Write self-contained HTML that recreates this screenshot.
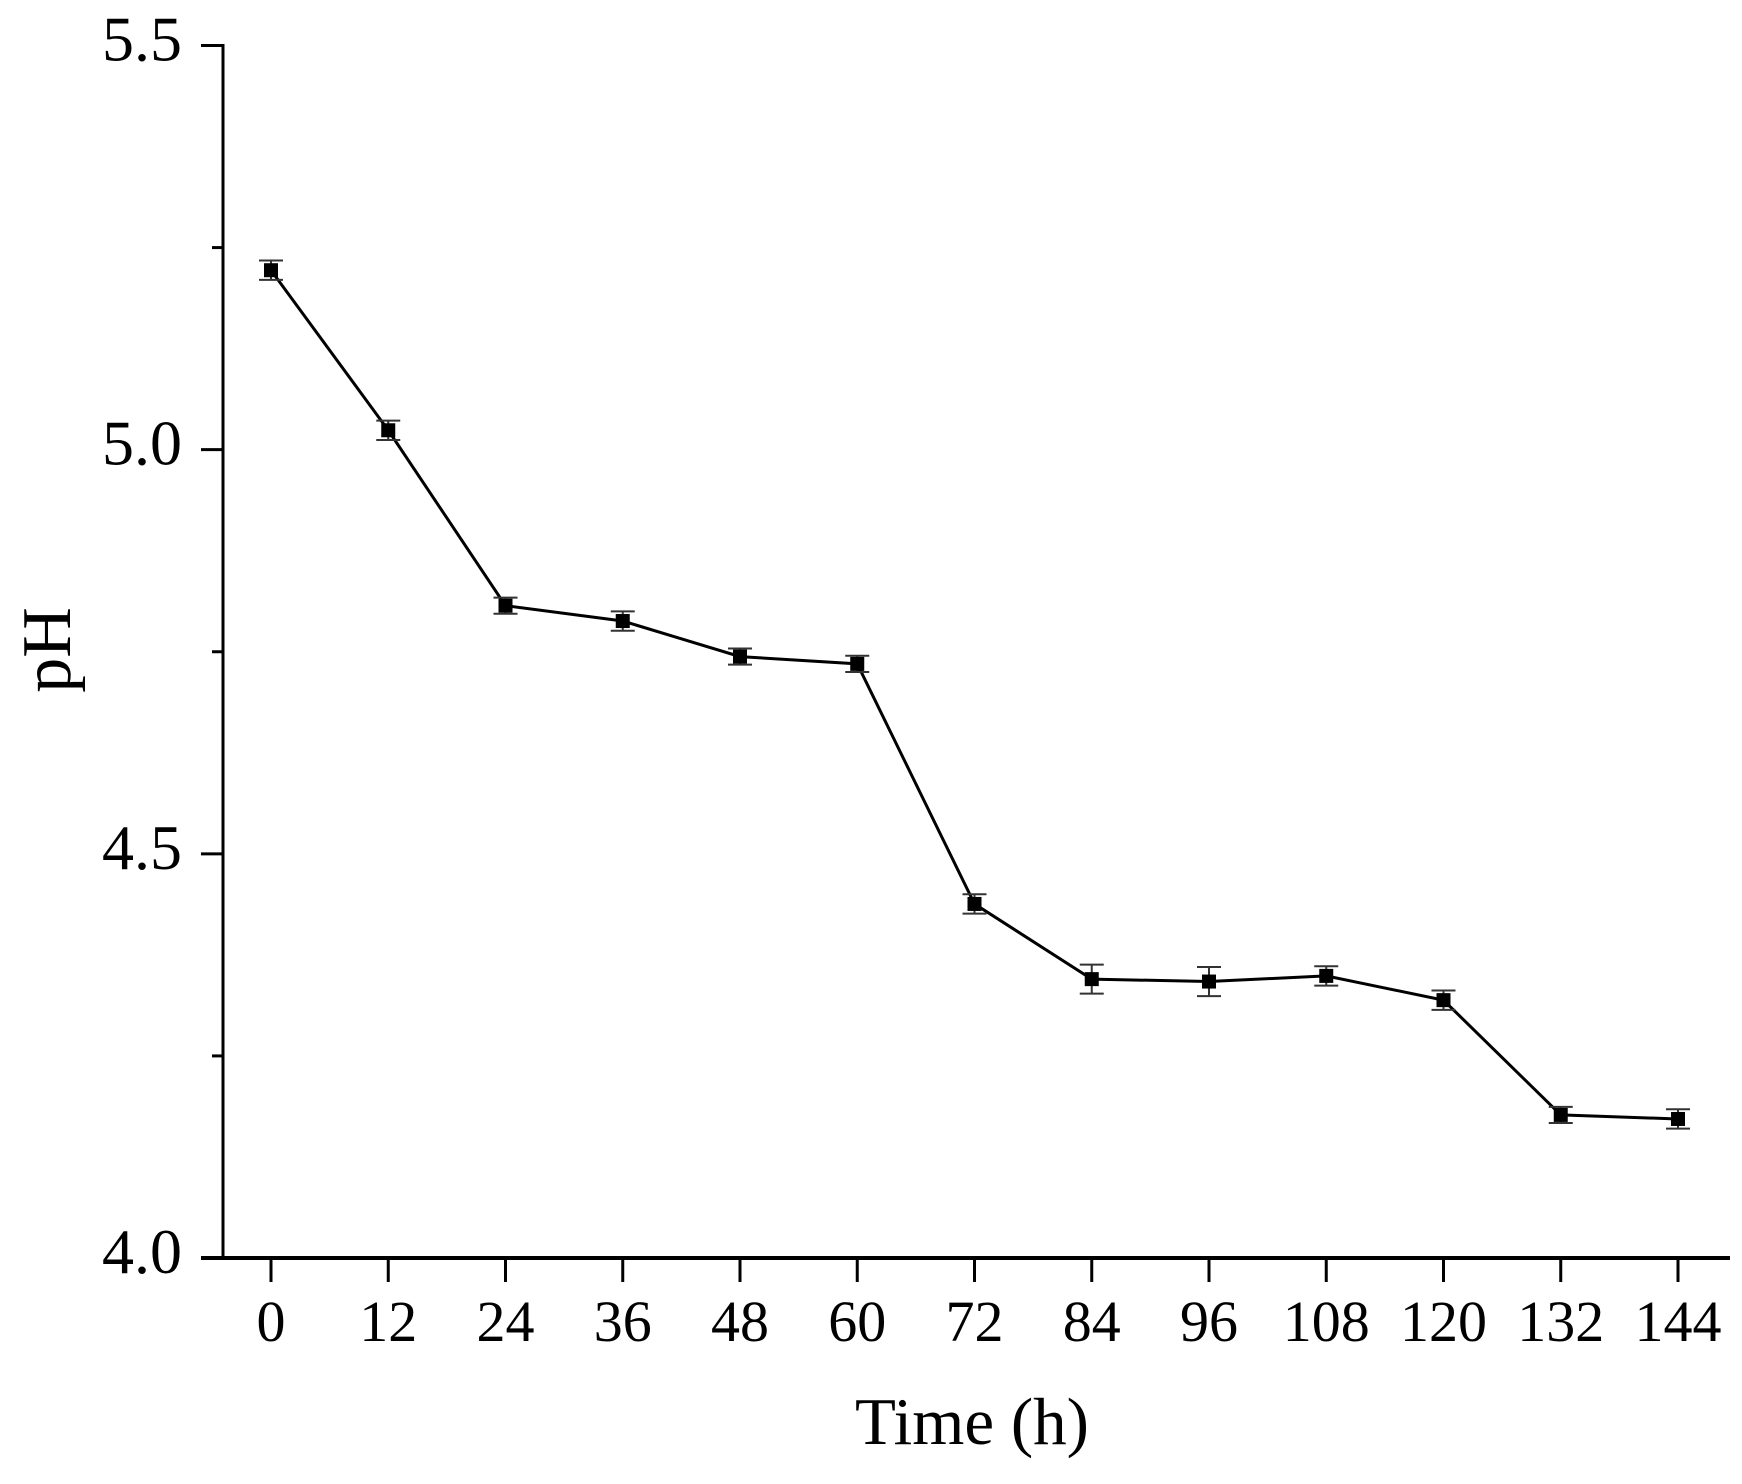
<!DOCTYPE html>
<html><head><meta charset="utf-8"><style>
body{margin:0;background:#fff}
svg text{font-family:"Liberation Serif",serif;fill:#000}
</style></head><body>
<svg width="1742" height="1479" viewBox="0 0 1742 1479" id="chart">
<g id="axes"></g><g id="series"></g>
<text x="972" y="1444" font-size="67" text-anchor="middle">Time (h)</text>
<text transform="translate(70,650) rotate(-90)" font-size="70" text-anchor="middle">pH</text>
</svg>
<script>
const times=[0,12,24,36,48,60,72,84,96,108,120,132,144];
const phValues=[5.222,5.024,4.807,4.788,4.744,4.735,4.438,4.345,4.342,4.349,4.319,4.177,4.172];
const phErrors=[0.012,0.012,0.01,0.012,0.01,0.01,0.012,0.018,0.018,0.012,0.012,0.01,0.012];
const yTicks=[4.0,4.5,5.0,5.5];
const yMinor=[4.25,4.75,5.25];
const xTicks=[0,12,24,36,48,60,72,84,96,108,120,132,144];
const NS="http://www.w3.org/2000/svg";
const X=v=>271+(v-0)*(1678-271)/144;
const Y=v=>1258-(v-4)*(1258-45.5)/1.5;
function mk(t,a,p){const e=document.createElementNS(NS,t);for(const k in a)e.setAttribute(k,a[k]);p.appendChild(e);return e;}
const ax=document.getElementById('axes'),se=document.getElementById('series');
let e=mk('line',{x1:223,y1:44,x2:223,y2:1259,stroke:'#000','stroke-width':3},ax);

e=mk('line',{x1:201,y1:1258,x2:1730,y2:1258,stroke:'#000','stroke-width':4},ax);

yTicks.forEach(v=>{
 mk('line',{x1:201,y1:Y(v),x2:223,y2:Y(v),stroke:'#000','stroke-width':3},ax);
 const t=mk('text',{x:182,y:Y(v)+15,'font-size':64,'text-anchor':'end'},ax);t.textContent=v.toFixed(1);
 
 
});
yMinor.forEach(v=>mk('line',{x1:212,y1:Y(v),x2:223,y2:Y(v),stroke:'#000','stroke-width':3},ax));
xTicks.forEach(v=>{
 mk('line',{x1:X(v),y1:1258,x2:X(v),y2:1282,stroke:'#000','stroke-width':3},ax);
 const t=mk('text',{x:X(v),y:1341,'font-size':58,'text-anchor':'middle'},ax);t.textContent=v;
 
 
});
const l=mk('polyline',{points:times.map((t,i)=>X(t)+','+Y(phValues[i])).join(' '),fill:'none',stroke:'#000','stroke-width':3},se);


times.forEach((t,i)=>{
 const x=X(t),y1=Y(phValues[i]+phErrors[i]),y2=Y(phValues[i]-phErrors[i]);
 const g=mk('g',{},se);
 
 
 mk('line',{x1:x,y1:y1,x2:x,y2:y2,stroke:'#333','stroke-width':2},g);
 mk('line',{x1:x-12,y1:y1,x2:x+12,y2:y1,stroke:'#333','stroke-width':2},g);
 mk('line',{x1:x-12,y1:y2,x2:x+12,y2:y2,stroke:'#333','stroke-width':2},g);
 mk('rect',{x:x-7,y:Y(phValues[i])-7,width:14,height:14,fill:'#000'},g);
});
</script>
</body></html>
